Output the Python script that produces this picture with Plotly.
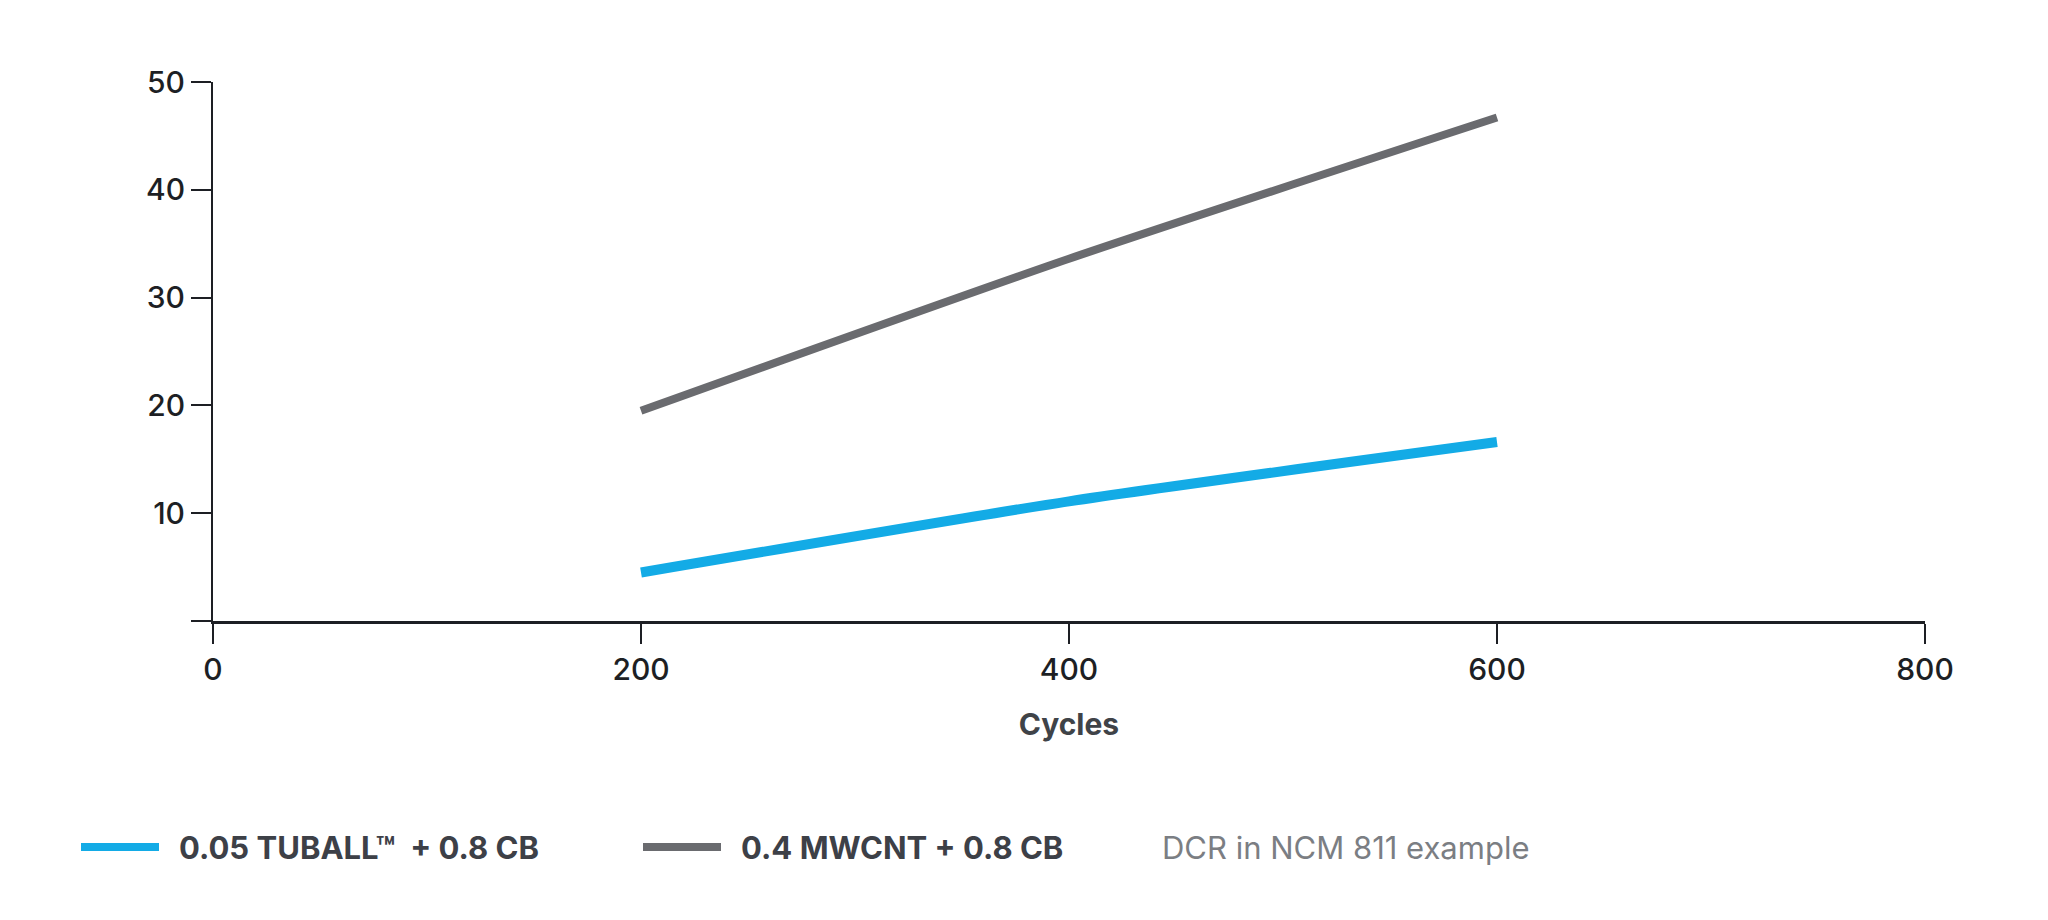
import plotly.graph_objects as go

cycles = [200, 400, 600]
tuball = [4.5, 11.1, 16.6]
mwcnt = [19.5, 33.6, 46.7]

series_names = ["0.05 TUBALL™  + 0.8 CB", "0.4 MWCNT + 0.8 CB"]
note_text = "DCR in NCM 811 example"
x_ticks = [0, 200, 400, 600, 800]
y_ticks = [0, 10, 20, 30, 40, 50]
y_ticktext = ["", "10", "20", "30", "40", "50"]

BLUE = "#13ABE6"
GRAY = "#6A6B6F"
FONT = "Inter"

W, H = 2048, 920
L, R, T, B = 213, 123, 82, 299
PW, PH = W - L - R, H - T - B

fig = go.Figure()
fig.add_trace(go.Scatter(x=cycles, y=mwcnt, mode="lines",
                         line=dict(color=GRAY, width=8, shape="spline", smoothing=0.6),
                         name=series_names[1], showlegend=False))
fig.add_trace(go.Scatter(x=cycles, y=tuball, mode="lines",
                         line=dict(color=BLUE, width=10, shape="spline", smoothing=0.6),
                         name=series_names[0], showlegend=False))

def px2paper(px, py):
    return (px - L) / PW, (H - B - py) / PH

# manual legend
legend_items = [(81, 159, 177, BLUE, series_names[0]), (643, 721, 739, GRAY, series_names[1])]
ly = 847
for x0, x1, tx, col, name in legend_items:
    a0, b0 = px2paper(x0, ly)
    a1, _ = px2paper(x1, ly)
    fig.add_shape(type="line", xref="paper", yref="paper", x0=a0, x1=a1, y0=b0, y1=b0,
                  line=dict(color=col, width=8))
    ax, ay = px2paper(tx, ly)
    fig.add_annotation(xref="paper", yref="paper", x=ax, y=ay, text="<b>%s</b>" % name,
                       showarrow=False, xanchor="left", yanchor="middle",
                       font=dict(family=FONT, size=31, color="#3D4047"))
nx, ny = px2paper(1160, ly)
fig.add_annotation(xref="paper", yref="paper", x=nx, y=ny, text=note_text,
                   showarrow=False, xanchor="left", yanchor="middle",
                   font=dict(family=FONT, size=31, color="#7B7E83"))

tickfont = dict(size=30, family=FONT, color="#1D1F24", weight=500)
fig.update_layout(
    width=W, height=H,
    margin=dict(l=L, r=R, t=T, b=B, pad=0),
    paper_bgcolor="white", plot_bgcolor="white",
    font=dict(family=FONT, color="#1D1F24"),
    xaxis=dict(range=[0, 800], tickvals=x_ticks, ticks="outside", ticklen=20, tickwidth=1.5,
               tickcolor="#1D1F24", showline=True, linecolor="#1D1F24", linewidth=3,
               showgrid=False, zeroline=False, tickfont=tickfont,
               title=dict(text="<b>Cycles</b>", font=dict(size=30, family=FONT, color="#3F4348"),
                          standoff=28)),
    yaxis=dict(range=[0, 50], tickvals=y_ticks, ticktext=y_ticktext, ticks="outside",
               ticklen=20, tickwidth=1.5, tickcolor="#1D1F24", showline=True,
               linecolor="#1D1F24", linewidth=2, showgrid=False, zeroline=False,
               tickfont=tickfont),
)

fig.write_html("out.html")
